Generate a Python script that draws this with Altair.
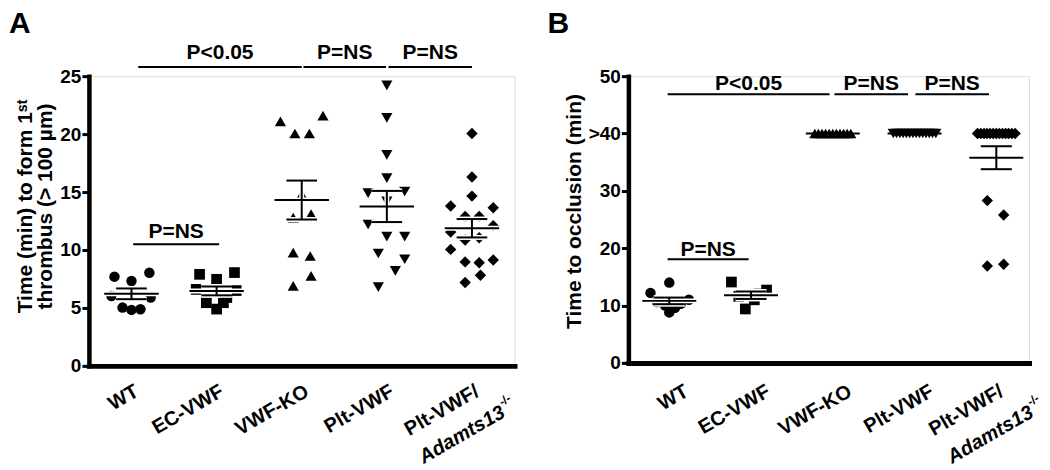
import json
import altair as alt
import numpy as np
import pandas as pd

FONT = "Liberation Sans"

# ---------------- data ----------------
groups = ["WT", "EC-VWF", "VWF-KO", "Plt-VWF", "Plt-VWF/"]
label_line2 = "Adamts13"
label_sup = "-/-"
shapes = ["circle", "square", "triangle-up", "triangle-down", "diamond"]

# Panel A: time (min) to form 1st thrombus (> 100 um); offsets = horizontal scatter in category units
a_wt = [7.70, 7.33, 8.04, 6.03, 5.89, 5.03, 4.83, 4.89]
a_wt_off = [-0.20, 0.0, 0.21, -0.235, 0.225, -0.105, 0.0, 0.105]
a_ec = [7.90, 8.05, 7.47, 6.60, 6.50, 5.90, 5.45, 5.45, 4.90]
a_ec_off = [-0.20, 0.21, 0.0, -0.24, 0.23, 0.12, -0.12, 0.08, 0.0]
a_ko = [21.1, 20.05, 20.05, 21.6, 14.8, 12.8, 13.1, 9.77, 9.48, 7.76, 6.9]
a_ko_off = [-0.25, -0.08, 0.09, 0.25, 0.0, -0.10, 0.11, -0.10, 0.10, 0.11, -0.10]
a_plt = [24.2, 21.4, 18.2, 16.2, 14.9, 15.05, 14.2, 12.2, 11.15, 11.15, 9.7, 9.2, 8.2, 6.8]
a_plt_off = [0.0, 0.0, 0.0, 0.0, -0.22, 0.21, 0.0, -0.22, 0.0, 0.21, -0.10, 0.21, 0.10, -0.10]
a_adam = [20.05, 16.3, 14.65, 13.8, 13.65, 12.9, 12.9, 12.1, 11.55, 10.86, 11.06, 10.05, 9.14, 8.97, 8.9, 7.82, 7.2]
a_adam_off = [0.0, 0.0, 0.0, -0.25, 0.25, -0.08, 0.085, 0.25, -0.25, -0.08, 0.085, -0.25, 0.25, -0.08, 0.085, 0.10, -0.08]

# Panel B: time to occlusion (min), 40 = no occlusion
b_wt = [14.0, 12.2, 11.0, 10.6, 10.3, 10.0, 9.6, 8.8]
b_wt_off = [0.0, -0.23, 0.24, -0.15, 0.14, -0.05, 0.07, 0.0]
b_ec = [14.1, 11.6, 9.4, 11.0, 12.0, 12.7]
b_ec_off = [-0.24, -0.15, -0.07, 0.04, 0.10, 0.19]
b_ko = [40, 40, 40, 40, 40, 40, 40, 40, 40, 40, 40]
b_ko_off = [-0.22, -0.176, -0.132, -0.088, -0.044, 0.0, 0.044, 0.088, 0.132, 0.176, 0.22]
b_plt = [40, 40, 40, 40, 40, 40, 40, 40, 40, 40, 40, 40, 40, 40]
b_plt_off = [-0.26, -0.22, -0.18, -0.14, -0.10, -0.06, -0.02, 0.02, 0.06, 0.10, 0.14, 0.18, 0.22, 0.26]
b_adam = [40, 40, 40, 40, 40, 40, 40, 40, 40, 40, 40, 40, 40, 28.3, 25.8, 16.9, 17.2]
b_adam_off = [-0.23, -0.19, -0.15, -0.115, -0.077, -0.038, 0.0, 0.038, 0.077, 0.115, 0.15, 0.19, 0.23, -0.11, 0.09, -0.11, 0.09]

# significance brackets: (x1, x2, line y, text y, label)
a_brackets = [(0.08, 2.00, 25.8, 26.45, "P<0.05"),
              (2.02, 2.99, 25.8, 26.45, "P=NS"),
              (3.02, 4.00, 25.8, 26.45, "P=NS"),
              (0.02, 1.03, 10.5, 11.05, "P=NS")]
b_brackets = [(-0.02, 1.96, 46.84, 47.55, "P<0.05"),
              (2.02, 2.92, 46.84, 47.55, "P=NS"),
              (3.01, 3.91, 46.84, 47.55, "P=NS"),
              (-0.02, 0.97, 18.07, 18.65, "P=NS")]

sizes = {"circle": 110, "square": 115, "triangle-up": 125, "triangle-down": 125, "diamond": 130}

LABEL_EXPR = json.dumps(groups) + "[datum.value]"


def panel(vals, offs, ymax, yvalues, ytitle, title_y, width, height, xmax, brackets,
          letter, letter_x, letter_y, mean_half, cap_half, lab_geo, label_expr=None):
    main_pad, main_off, l2_off, l2_pad, sup_off, sup_pad = lab_geo
    rows = []
    for i, (vs, os) in enumerate(zip(vals, offs)):
        for v, o in zip(vs, os):
            rows.append({"x": i + o, "y": v, "shape": shapes[i], "size": sizes[shapes[i]]})
    pts = pd.DataFrame(rows)

    # mean +/- SEM
    halo, lines = [], []
    for i, vs in enumerate(vals):
        arr = np.array(vs, dtype=float)
        m = arr.mean()
        s = arr.std(ddof=1) / np.sqrt(len(arr))
        segs = [(i - mean_half, i + mean_half, m, m)]
        if s > 0:
            segs += [(i - cap_half, i + cap_half, m + s, m + s),
                     (i - cap_half, i + cap_half, m - s, m - s),
                     (i, i, m - s, m + s)]
        for (x1, x2, y1, y2) in segs:
            lines.append({"x": x1, "x2": x2, "y": y1, "y2": y2})
            if s > 0:
                halo.append({"x": x1, "x2": x2, "y": y1, "y2": y2})
    lines = pd.DataFrame(lines)
    halo = pd.DataFrame(halo)

    br = pd.DataFrame([{"x": b[0], "x2": b[1], "y": b[2]} for b in brackets])
    brt = pd.DataFrame([{"x": (b[0] + b[1]) / 2, "y": b[3], "t": b[4]} for b in brackets])

    xs = alt.Scale(domain=[-0.5, xmax], nice=False, zero=False)
    ys = alt.Scale(domain=[0, ymax], nice=False, zero=True)
    lab_common = dict(title=None, grid=False, ticks=False, tickSize=0, labelFont=FONT,
                      labelFontWeight="bold", labelColor="black", labelAngle=330,
                      labelBaseline="top", labelOverlap=False, labelFlush=False,
                      orient="bottom")
    xaxis = alt.Axis(values=[0, 1, 2, 3, 4], labelExpr=LABEL_EXPR, labelAlign="right",
                     labelPadding=main_pad,
                     labelOffset={"condition": {"test": "datum.value < 4", "value": main_off}, "value": 0},
                     labelFontSize=20, domainColor="black",
                     domainWidth=5, domainCap="square", **lab_common)
    xaxis2 = alt.Axis(values=[4], labelExpr=json.dumps(label_line2), labelAlign="right",
                      labelPadding=l2_pad, labelOffset=l2_off, labelFontSize=20, labelFontStyle="italic",
                      domain=False, **lab_common)
    xaxis3 = alt.Axis(values=[4], labelExpr=json.dumps(label_sup), labelAlign="left",
                      labelPadding=sup_pad, labelOffset=sup_off, labelFontSize=12,
                      domain=False, **lab_common)
    yargs = dict(title=ytitle, values=yvalues, grid=False, domainColor="black",
                 domainWidth=4.5, domainCap="square", tickColor="black", tickWidth=3,
                 tickSize=7, labelFont=FONT, labelFontSize=19, labelFontWeight="bold",
                 labelColor="black", labelPadding=1, titleFont=FONT, titleFontSize=21,
                 titleFontWeight="bold", titleColor="black", titlePadding=4,
                 titleLineHeight=20, titleY=title_y)
    if label_expr:
        yargs["labelExpr"] = label_expr
    yaxis = alt.Axis(**yargs)
    X = alt.X("x:Q", scale=xs, axis=xaxis)
    Xn = alt.X("x:Q", scale=xs, axis=None)
    Y = alt.Y("y:Q", scale=ys, axis=yaxis)

    p_layer = alt.Chart(pts).mark_point(filled=True, opacity=1, color="black").encode(
        x=X, y=Y, shape=alt.Shape("shape:N", scale=None), size=alt.Size("size:Q", scale=None))
    halo_layer = alt.Chart(halo).mark_rule(color="white", strokeWidth=5).encode(
        x=Xn, x2=alt.X2("x2:Q"), y=Y, y2=alt.Y2("y2:Q"))
    line_layer = alt.Chart(lines).mark_rule(color="black", strokeWidth=2).encode(
        x=Xn, x2=alt.X2("x2:Q"), y=Y, y2=alt.Y2("y2:Q"))
    br_layer = alt.Chart(br).mark_rule(color="black", strokeWidth=2).encode(
        x=Xn, x2=alt.X2("x2:Q"), y=Y)
    brt_layer = alt.Chart(brt).mark_text(font=FONT, fontSize=21, fontWeight="bold",
                                         baseline="alphabetic", align="center", color="black").encode(
        x=Xn, y=Y, text="t:N")
    anchor = pd.DataFrame({"x": [len(groups) - 1], "y": [0]})
    ax2_layer = alt.Chart(anchor).mark_point(opacity=0).encode(
        x=alt.X("x:Q", scale=xs, axis=xaxis2), y=Y)
    ax3_layer = alt.Chart(anchor).mark_point(opacity=0).encode(
        x=alt.X("x:Q", scale=xs, axis=xaxis3), y=Y)
    let = pd.DataFrame({"x": [0], "y": [0], "t": [letter]})
    let_layer = alt.Chart(let).mark_text(font=FONT, fontSize=30, fontWeight="bold",
                                         align="left", baseline="top", color="black").encode(
        x=alt.value(letter_x), y=alt.value(letter_y), text="t:N")

    return alt.layer(p_layer, halo_layer, line_layer, br_layer, brt_layer,
                     ax2_layer, ax3_layer, let_layer).resolve_axis(x="independent").properties(
        width=width, height=height)


chart_a = panel([a_wt, a_ec, a_ko, a_plt, a_adam],
                [a_wt_off, a_ec_off, a_ko_off, a_plt_off, a_adam_off],
                25, [0, 5, 10, 15, 20, 25],
                ["Time (min) to form 1\u02e2\u1d57", "thrombus (> 100 \u00b5m)"], 130,
                426, 290, 4.5, a_brackets, "A", -80, -67, 0.32, 0.18,
                (15, 0, 26, 36, 25, 32))

chart_b = panel([b_wt, b_ec, b_ko, b_plt, b_adam],
                [b_wt_off, b_ec_off, b_ko_off, b_plt_off, b_adam_off],
                50, [0, 10, 20, 30, 40, 50],
                "Time to occlusion (min)", 135,
                401, 287, 4.4, b_brackets, "B", -81, -67, 0.33, 0.19,
                (18, 12, 30, 39, 29, 35),
                label_expr="datum.value == 40 ? '>40' : datum.label")

chart = alt.concat(chart_a, chart_b, columns=2, spacing=31, align="none").properties(
    padding=0).configure_view(stroke=None).configure(font=FONT)

chart.save("out.html", embed_options={"renderer": "svg", "actions": False})
